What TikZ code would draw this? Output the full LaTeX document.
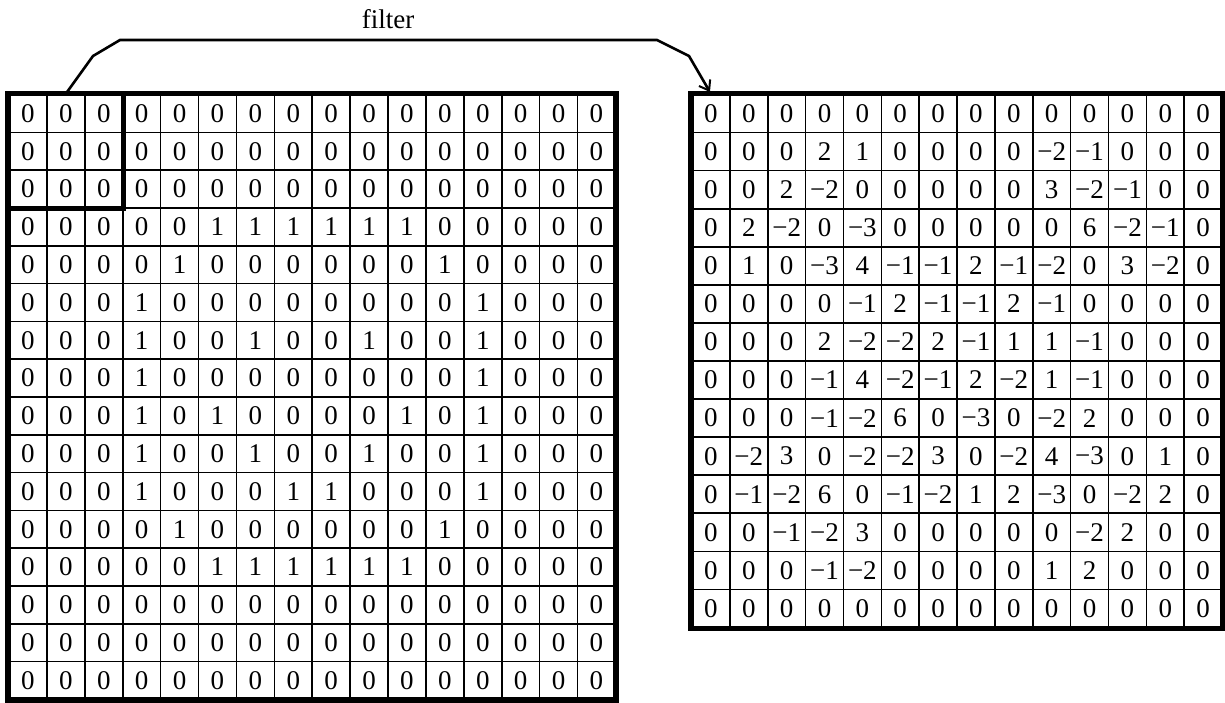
\documentclass[tikz,border=0pt]{standalone}
\usepackage{fontspec}
\setmainfont{Liberation Serif}
\usetikzlibrary{arrows.meta}
\begin{document}
\begin{tikzpicture}[x=1pt,y=-1pt,
  cell/.style={draw,line width=1.6pt,minimum width=37.9pt,minimum height=37.8pt,inner sep=0pt,font=\fontsize{27}{31}\selectfont},
  rcell/.style={cell,minimum width=37.86pt,minimum height=38.07pt},
  border/.style={line width=5.5pt},
  conn/.style={line width=2.6pt,line join=miter,-{Straight Barb[length=9pt,width=13pt,line width=2pt]},shorten >=2pt},
  lbl/.style={font=\fontsize{27}{30}\selectfont,anchor=base,inner sep=0pt}]
\useasboundingbox (0,0) rectangle (1225,702);
% left grid 16x16
\foreach \row [count=\r from 0] in {
 {0,0,0,0,0,0,0,0,0,0,0,0,0,0,0,0},
 {0,0,0,0,0,0,0,0,0,0,0,0,0,0,0,0},
 {0,0,0,0,0,0,0,0,0,0,0,0,0,0,0,0},
 {0,0,0,0,0,1,1,1,1,1,1,0,0,0,0,0},
 {0,0,0,0,1,0,0,0,0,0,0,1,0,0,0,0},
 {0,0,0,1,0,0,0,0,0,0,0,0,1,0,0,0},
 {0,0,0,1,0,0,1,0,0,1,0,0,1,0,0,0},
 {0,0,0,1,0,0,0,0,0,0,0,0,1,0,0,0},
 {0,0,0,1,0,1,0,0,0,0,1,0,1,0,0,0},
 {0,0,0,1,0,0,1,0,0,1,0,0,1,0,0,0},
 {0,0,0,1,0,0,0,1,1,0,0,0,1,0,0,0},
 {0,0,0,0,1,0,0,0,0,0,0,1,0,0,0,0},
 {0,0,0,0,0,1,1,1,1,1,1,0,0,0,0,0},
 {0,0,0,0,0,0,0,0,0,0,0,0,0,0,0,0},
 {0,0,0,0,0,0,0,0,0,0,0,0,0,0,0,0},
 {0,0,0,0,0,0,0,0,0,0,0,0,0,0,0,0}}{
  \foreach \v [count=\c from 0] in \row {
    \node[cell] (L-\r-\c) at ({9+(\c+0.5)*37.9},{94.5+(\r+0.5)*37.8}) {\v};
  }
}
% right grid 14x14
\foreach \row [count=\r from 0] in {
 {0,0,0,0,0,0,0,0,0,0,0,0,0,0},
 {0,0,0,2,1,0,0,0,0,−2,−1,0,0,0},
 {0,0,2,−2,0,0,0,0,0,3,−2,−1,0,0},
 {0,2,−2,0,−3,0,0,0,0,0,6,−2,−1,0},
 {0,1,0,−3,4,−1,−1,2,−1,−2,0,3,−2,0},
 {0,0,0,0,−1,2,−1,−1,2,−1,0,0,0,0},
 {0,0,0,2,−2,−2,2,−1,1,1,−1,0,0,0},
 {0,0,0,−1,4,−2,−1,2,−2,1,−1,0,0,0},
 {0,0,0,−1,−2,6,0,−3,0,−2,2,0,0,0},
 {0,−2,3,0,−2,−2,3,0,−2,4,−3,0,1,0},
 {0,−1,−2,6,0,−1,−2,1,2,−3,0,−2,2,0},
 {0,0,−1,−2,3,0,0,0,0,0,−2,2,0,0},
 {0,0,0,−1,−2,0,0,0,0,1,2,0,0,0},
 {0,0,0,0,0,0,0,0,0,0,0,0,0,0}}{
  \foreach \v [count=\c from 0] in \row {
    \node[rcell] (R-\r-\c) at ({692+(\c+0.5)*37.86},{94.5+(\r+0.5)*38.07}) {\v};
  }
}
% borders
\draw[border] (L-0-0.north west) rectangle (L-15-15.south east);
\draw[border] (L-0-0.north west) rectangle (L-2-2.south east);
\draw[border] (R-0-0.north west) rectangle (R-13-13.south east);
% connector
\draw[conn] (L-0-1.north) -- (93,56) -- (120,40) -- (657,40) -- (689,56) -- (R-0-0.north);
\node[lbl] (filter) at (388,28) {filter};
\end{tikzpicture}
\end{document}
